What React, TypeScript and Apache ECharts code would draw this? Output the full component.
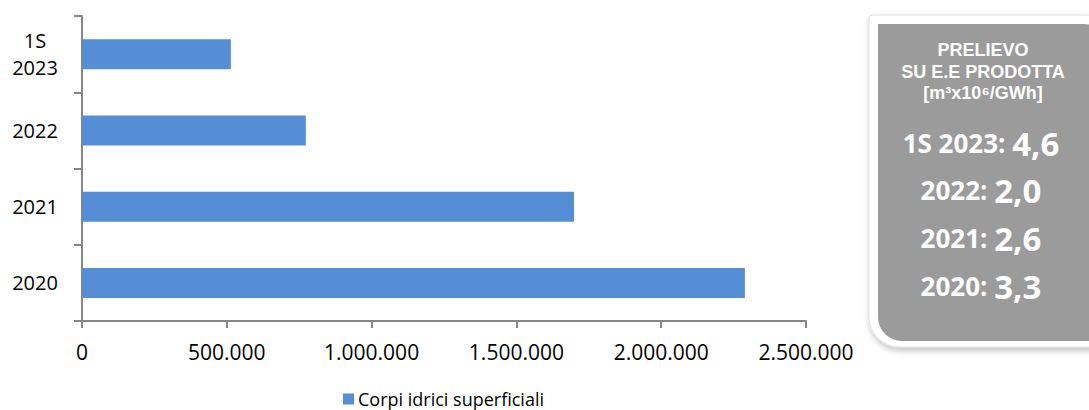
import React, { useEffect, useRef } from "react";
import * as echarts from "echarts";

const categories = ["2020", "2021", "2022", "1S\n2023"];
const values = [2289000, 1699000, 773000, 514000];
const seriesName = "Corpi idrici superficiali";
const xTicks = { min: 0, max: 2500000, interval: 500000 };
const panelTitle = ["PRELIEVO", "SU E.E PRODOTTA", "[m³x10⁶/GWh]"];
const panelLabels = ["1S 2023:", "2022:", "2021:", "2020:"];
const panelValues = ["4,6", "2,0", "2,6", "3,3"];

const FONT = "'Open Sans', 'Noto Sans', sans-serif";
const TITLE_FONT = "'Liberation Sans', Arial, sans-serif";

function fmt(v: number): string {
  return String(Math.round(v)).replace(/\B(?=(\d{3})+(?!\d))/g, ".");
}

export default function App() {
  const ref = useRef<HTMLDivElement>(null);
  useEffect(() => {
    if (!ref.current) return;
    const chart = echarts.init(ref.current, null, { renderer: "svg" });
    const cx = 983;
    const graphics: any[] = [
      {
        type: "rect",
        shape: { x: 869, y: 15, width: 260, height: 332, r: [4, 42, 0, 30] },
        style: {
          fill: "#ffffff",
          stroke: "#e2e2e2",
          lineWidth: 1,
          shadowBlur: 6,
          shadowColor: "rgba(0,0,0,0.25)",
          shadowOffsetX: 1,
          shadowOffsetY: 3,
        },
        z: 10,
      },
      {
        type: "rect",
        shape: { x: 878, y: 24, width: 240, height: 317, r: [0, 35, 0, 24] },
        style: { fill: "#9B9B9B" },
        z: 11,
      },
    ];
    const titleY = [50, 71.5, 93];
    panelTitle.forEach((t, i) => {
      graphics.push({
        type: "text",
        x: cx,
        y: titleY[i],
        z: 12,
        style: {
          text: t,
          fill: "#ffffff",
          font: `bold 18px ${TITLE_FONT}`,
          align: "center",
          verticalAlign: "middle",
        },
      });
    });
    const rowY = [143, 190, 238, 286];
    panelLabels.forEach((t, i) => {
      graphics.push({
        type: "text",
        x: cx - 2,
        y: rowY[i],
        z: 12,
        style: {
          text: `{a|${t} }{b|${panelValues[i]}}`,
          align: "center",
          verticalAlign: "middle",
          rich: {
            a: { fill: "#ffffff", fontFamily: FONT, fontWeight: "bold", fontSize: 26 },
            b: { fill: "#ffffff", fontFamily: FONT, fontWeight: "bold", fontSize: 33 },
          },
        },
      });
    });

    chart.setOption({
      animation: false,
      grid: {
        left: 82,
        right: 283,
        top: 16,
        bottom: 89,
        containLabel: false,
        outerBoundsMode: "none",
      },
      legend: {
        data: [seriesName],
        left: 338,
        top: 385,
        itemWidth: 11,
        itemHeight: 11,
        itemGap: 6,
        icon: "rect",
        textStyle: { fontFamily: FONT, fontSize: 18, color: "#000000", padding: [0, 0, 0, -1] },
      },
      xAxis: {
        type: "value",
        min: xTicks.min,
        max: xTicks.max,
        interval: xTicks.interval,
        splitLine: { show: false },
        axisLine: { show: true, lineStyle: { color: "#868686", width: 2 } },
        axisTick: { show: true, length: 7, lineStyle: { color: "#868686", width: 2 } },
        axisLabel: {
          formatter: (v: number) => fmt(v),
          fontFamily: FONT,
          fontSize: 21,
          lineHeight: 21,
          color: "#000000",
          margin: 20,
        },
      },
      yAxis: {
        type: "category",
        data: categories,
        axisLine: { show: true, lineStyle: { color: "#868686", width: 2 } },
        axisTick: { show: true, length: 8, lineStyle: { color: "#868686", width: 2 } },
        axisLabel: {
          fontFamily: FONT,
          fontSize: 20,
          lineHeight: 27,
          color: "#000000",
          align: "center",
          margin: 47,
        },
      },
      series: [
        {
          name: seriesName,
          type: "bar",
          data: values,
          barWidth: 30,
          itemStyle: { color: "#558ED5" },
        },
      ],
      graphic: graphics,
    });
    return () => chart.dispose();
  }, []);
  return <div ref={ref} style={{ width: 1089, height: 410, position: "absolute", left: 0, top: 0 }} />;
}
